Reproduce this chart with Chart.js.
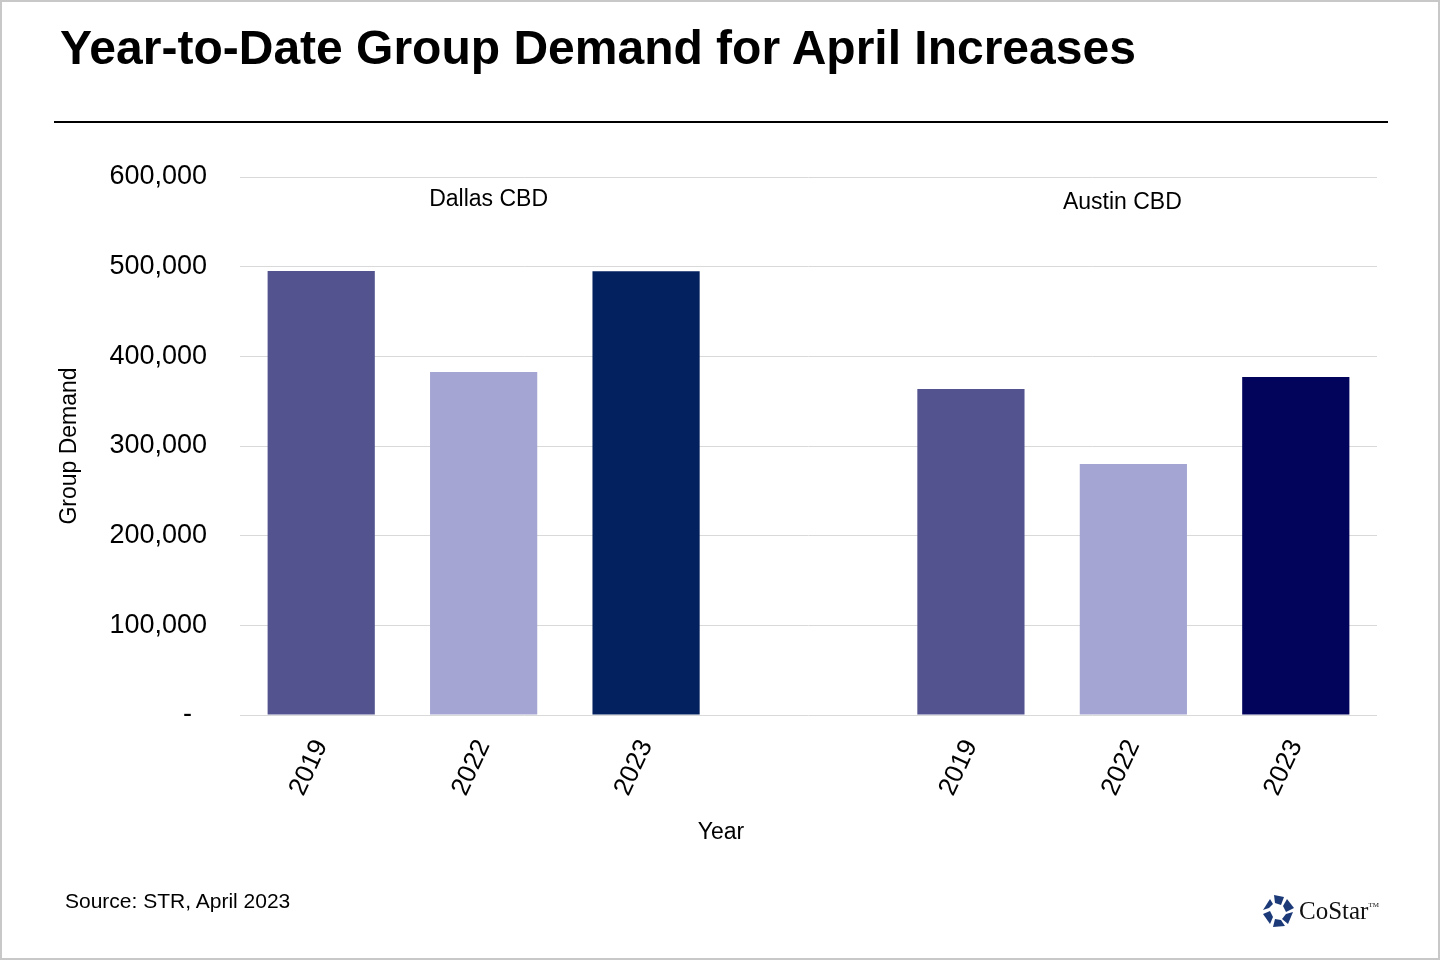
<!DOCTYPE html>
<html>
<head>
<meta charset="utf-8">
<script src="https://cdn.jsdelivr.net/npm/chart.js@4"></script>
<style>
  body { margin: 0; background: #fff; }
  #wrap { position: relative; width: 1440px; height: 960px; box-sizing: border-box; border: 2px solid #c8c8c8; overflow: hidden; }
  #chart { position: absolute; left: -2px; top: -2px; }
  .title { position: absolute; left: 58px; top: 18px; font: bold 48px "Liberation Sans", Arial, sans-serif; color: #000; white-space: nowrap; }
  .rule { position: absolute; left: 52px; top: 119px; width: 1334px; height: 2px; background: #000; }
  .source { position: absolute; left: 63px; top: 887px; font: 21px "Liberation Sans", Arial, sans-serif; color: #000; }
  .logo { position: absolute; left: 1259px; top: 892px; display: flex; align-items: center; }
  .logo span { font: 25px "Liberation Serif", "DejaVu Serif", serif; color: #111; margin-left: 4px; }
  .logo sup { font-size: 7px; vertical-align: 12px; }
</style>
</head>
<body>
<div id="wrap">
  <canvas id="chart" width="1440" height="960"></canvas>
  <div class="title">Year-to-Date Group Demand for April Increases</div>
  <div class="rule"></div>
  <div class="source">Source: STR, April 2023</div>
  <div class="logo">
    <svg width="34" height="34" viewBox="0 0 34 34">
      <g fill="#1d3a78">
        <polygon points="13,1 23,3 20,11 14,9"/>
        <polygon points="26,5 33,14 25,18 22,12"/>
        <polygon points="32,18 27,30 21,25 25,20"/>
        <polygon points="24,32 12,33 14,25 20,26"/>
        <polygon points="9,30 2,20 9,17 12,23"/>
        <polygon points="2,16 9,5 12,10 8,14"/>
      </g>
    </svg>
    <span>CoStar<sup>TM</sup></span>
  </div>
</div>
<script>
// years shown under each group, blank slot between the two markets
const years = ["2019", "2022", "2023"];
const dallasValues = [495100, 382500, 495000];
const austinValues = [363600, 279900, 376900];
const dallasColors = ["#53538f", "#a5a5d3", "#03215e"];
const austinColors = ["#53538f", "#a5a5d3", "#02035a"];
const yTicks = [0, 100000, 200000, 300000, 400000, 500000, 600000];

const labels = [...years, "", ...years];
const values = [...dallasValues, null, ...austinValues];
const colors = [...dallasColors, "#ffffff", ...austinColors];

// market names written above each group
const groupLabels = [
  { text: "Dallas CBD", index: 1, dx: 5, y: 200 },
  { text: "Austin CBD", index: 5, dx: -11, y: 203 }
];

const FONT = "'Liberation Sans', Arial, sans-serif";
Chart.defaults.font.family = FONT;
Chart.defaults.color = "#000";

const groupLabelPlugin = {
  id: "groupLabels",
  afterDraw(chart) {
    const ctx = chart.ctx;
    const x = chart.scales.x;
    ctx.save();
    ctx.font = "23px " + FONT;
    ctx.fillStyle = "#000";
    ctx.textAlign = "center";
    ctx.textBaseline = "middle";
    groupLabels.forEach(g => {
      ctx.fillText(g.text, x.getPixelForValue(g.index) + g.dx, g.y);
    });
    // x axis title sits left of centre in the original
    ctx.font = "23px " + FONT;
    ctx.fillText("Year", 721, 833);
    ctx.restore();
  }
};

new Chart(document.getElementById("chart"), {
  type: "bar",
  data: {
    labels: labels,
    datasets: [{
      data: values,
      backgroundColor: colors,
      borderWidth: 0,
      barPercentage: 0.66,
      categoryPercentage: 1.0
    }]
  },
  options: {
    responsive: false,
    devicePixelRatio: 1,
    animation: false,
    layout: { padding: { top: 177, right: 63, bottom: 100, left: 40 } },
    plugins: { legend: { display: false }, tooltip: { enabled: false } },
    scales: {
      x: {
        grid: { display: false },
        border: { display: false },
        ticks: { font: { size: 26 }, minRotation: 65, maxRotation: 65, padding: 12 },
        afterFit(scale) { scale.height = 145; }
      },
      y: {
        min: 0,
        max: 600000,
        afterBuildTicks(scale) { scale.ticks = yTicks.map(v => ({ value: v })); },
        grid: { color: "#d9d9d9", lineWidth: 1, drawTicks: false },
        border: { display: false },
        ticks: {
          font: { size: 27 },
          padding: 33,
          callback: v => v === 0 ? "-  " : v.toLocaleString("en-US")
        },
        title: { display: true, text: "Group Demand", font: { size: 23 }, padding: { top: 16, bottom: 0 } },
        afterFit(scale) { scale.width = 200; }
      }
    }
  },
  plugins: [groupLabelPlugin]
});
</script>
</body>
</html>
